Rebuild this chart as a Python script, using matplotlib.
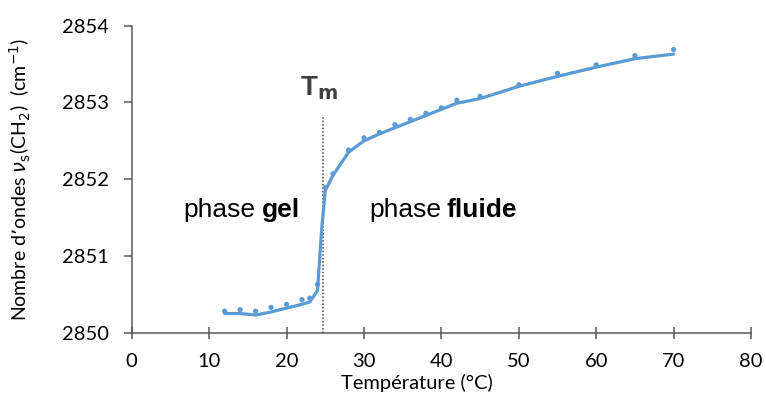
import matplotlib
matplotlib.use("Agg")
import matplotlib.pyplot as plt

# measured points
temp_pts = [12, 14, 16, 18, 20, 22, 23, 24, 25, 26, 28, 30, 32, 34, 36, 38, 40, 42, 45, 50, 55, 60, 65, 70]
wn_pts = [2850.28, 2850.30, 2850.28, 2850.33, 2850.37, 2850.43, 2850.45, 2850.63,
          2851.89, 2852.07, 2852.38, 2852.54, 2852.61, 2852.71, 2852.78, 2852.86,
          2852.93, 2853.03, 2853.08, 2853.23, 2853.38, 2853.49, 2853.61, 2853.69]

# fitted curve
temp_fit = [12, 14, 16, 18, 20, 22, 23, 24, 24.5, 25, 26, 28, 30, 32, 34, 36, 38, 40, 42, 45, 50, 55, 60, 65, 70]
wn_fit = [2850.25, 2850.25, 2850.23, 2850.27, 2850.32, 2850.37, 2850.40, 2850.55, 2851.30, 2851.85,
          2852.05, 2852.35, 2852.50, 2852.59, 2852.67, 2852.75, 2852.83, 2852.91, 2852.99, 2853.05,
          2853.21, 2853.34, 2853.46, 2853.57, 2853.63]

tm = 24.7
tm_top = 2852.83

x_ticks = [0, 10, 20, 30, 40, 50, 60, 70, 80]
y_ticks = [2850, 2851, 2852, 2853, 2854]

blue = "#5B9BD5"
axc = "#595959"

fig = plt.figure(figsize=(7.66, 4.03), dpi=100)
ax = fig.add_axes([131.7/766, (403-332.7)/403, (751-131.7)/766, (332.7-25.7)/403])

ax.plot(temp_fit, wn_fit, color=blue, lw=2.3, zorder=3, solid_capstyle="round",
        solid_joinstyle="round")
ax.scatter(temp_pts, wn_pts, color=blue, s=14, zorder=4, edgecolors="none")
ax.plot([tm, tm], [2850, tm_top], color="#404040", lw=1.1, ls=(0, (1, 1.3)), zorder=2)

ax.set_xlim(0, 80)
ax.set_ylim(2850, 2854)
ax.set_xticks(x_ticks)
ax.set_yticks(y_ticks)

for s in ["top", "right"]:
    ax.spines[s].set_visible(False)
for s in ["left", "bottom"]:
    ax.spines[s].set_color(axc)
    ax.spines[s].set_linewidth(1.1)

tickfont = "Lato"
ax.tick_params(axis="x", direction="inout", length=9, width=1.1, color=axc, pad=10,
               labelsize=14.5, labelcolor="black")
ax.tick_params(axis="y", direction="out", length=6, width=1.1, color=axc, pad=10.5,
               labelsize=14.5, labelcolor="black")
for lab in ax.get_xticklabels() + ax.get_yticklabels():
    lab.set_fontfamily(tickfont)

ax.set_xlabel("Température (°C)", fontsize=14.5, family=tickfont, va="top")
ax.xaxis.set_label_coords(0.461, -0.133)
ax.set_ylabel(r"Nombre d’ondes $\nu_{\mathrm{s}}$(CH$_2$)  (cm$^{-1}$)", fontsize=14,
              family=tickfont)
ax.yaxis.set_label_coords(-0.159, 0.5)

ax.text(21.75, 2853.10, r"T$_{\mathbf{m}}$", fontsize=20, fontweight="bold", color="#404040",
        ha="left", va="baseline", family="Liberation Sans")
ax.text(6.67, 2851.51, "phase", fontsize=19, ha="left", va="baseline", family="Liberation Sans")
ax.text(16.87, 2851.51, "gel", fontsize=19, fontweight="bold", ha="left", va="baseline",
        family="Liberation Sans")
ax.text(30.66, 2851.51, "phase", fontsize=19, ha="left", va="baseline", family="Liberation Sans")
ax.text(40.7, 2851.51, "fluide", fontsize=19, fontweight="bold", ha="left", va="baseline",
        family="Liberation Sans")

fig.savefig("out.png", dpi=100)
